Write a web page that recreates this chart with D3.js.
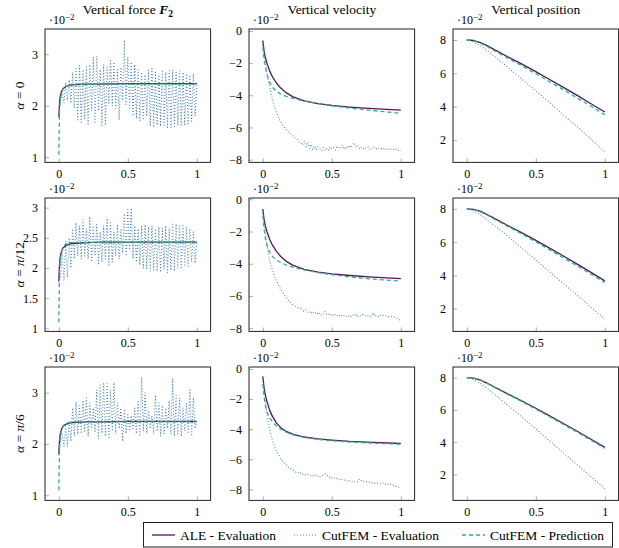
<!DOCTYPE html>
<html><head><meta charset="utf-8">
<script src="https://cdn.jsdelivr.net/npm/d3@7"></script>
<style>
body{margin:0;background:#fff;}
svg text, svg tspan{font-family:"Liberation Serif","Times New Roman",Times,serif !important;fill:#000;}
</style></head>
<body><svg id="c" width="619" height="548" font-family="Liberation Serif, serif"></svg>
<script>
// ---------------- DATA ----------------
const colTitles = ["Vertical force", "Vertical velocity", "Vertical position"];
const rowLabels = ["0", "π/12", "π/6"];
const seriesNames = ["ALE - Evaluation", "CutFEM - Evaluation", "CutFEM - Prediction"];
const xTicks = [0, 0.5, 1];
const xTickLabels = ["0", "0.5", "1"];
const forceTicks = [[1, 2, 3], [1, 1.5, 2, 2.5, 3], [1, 2, 3]];
const velTicks = [-8, -6, -4, -2, 0];
const posTicks = [2, 4, 6, 8];

// time grid of the CutFEM evaluation samples (81 uniform samples on [0,1])
const evalT = d3.range(81).map(i => i / 80);
// time samples for the smooth curves
const forceT = [0, 0.005, 0.01, 0.02, 0.03, 0.05, 0.08, 0.12, 0.2, 0.3, 0.5, 0.7, 1.0];
const velT = [0, 0.01, 0.02, 0.03, 0.05, 0.07, 0.1, 0.13, 0.17, 0.22, 0.3, 0.4, 0.5, 0.63, 0.8, 1.0];
const posT = [0, 0.05, 0.1, 0.15, 0.2, 0.3, 0.4, 0.5, 0.6, 0.7, 0.8, 0.9, 1.0];

// ---- Vertical force (·10^-2) ----
const forceAle0 = [1.78, 2.05, 2.18, 2.28, 2.33, 2.37, 2.40, 2.41, 2.42, 2.42, 2.43, 2.43, 2.43];
const forcePred0 = [1.05, 1.90, 2.10, 2.25, 2.32, 2.38, 2.40, 2.41, 2.42, 2.42, 2.42, 2.42, 2.42];
const forceEval0 = [1.80,2.10,2.30,2.05,2.45,2.10,2.50,2.05,2.65,1.95,2.75,1.70,2.78,1.65,2.70,1.75,2.75,1.62,2.80,1.90,
  2.95,1.65,2.97,1.90,2.70,1.62,2.80,1.62,2.75,2.05,2.90,2.00,2.85,1.95,2.70,1.72,2.75,2.10,3.27,2.00,
  2.95,1.95,2.85,1.80,2.80,1.75,2.70,1.70,2.65,1.75,2.60,1.80,2.70,1.60,2.75,1.58,2.65,1.62,2.60,1.60,
  2.70,1.62,2.65,1.58,2.68,1.58,2.70,1.60,2.65,1.62,2.68,1.60,2.65,1.62,2.62,1.65,2.60,1.70,2.62,1.80,2.40];
const forceAle1 = [1.78, 2.05, 2.18, 2.28, 2.33, 2.37, 2.40, 2.41, 2.42, 2.43, 2.43, 2.43, 2.43];
const forcePred1 = [1.10, 1.90, 2.12, 2.27, 2.34, 2.40, 2.42, 2.42, 2.42, 2.42, 2.42, 2.42, 2.42];
const forceEval1 = [1.75,1.85,2.25,1.80,2.45,1.85,2.50,2.00,2.65,2.15,2.75,2.20,2.70,2.15,2.80,2.20,2.65,2.15,2.85,2.10,
  2.70,2.20,2.72,2.05,2.60,2.10,2.70,2.15,2.82,2.05,2.75,2.10,2.60,2.20,2.72,2.15,2.65,2.25,2.90,2.20,
  2.97,2.30,2.99,2.15,2.70,2.10,2.65,2.05,2.70,2.00,2.72,1.98,2.68,1.95,2.70,1.97,2.65,1.95,2.68,1.93,
  2.66,1.98,2.70,1.92,2.65,1.96,2.75,1.95,2.73,2.00,2.72,1.98,2.70,2.05,2.68,2.02,2.65,2.10,2.60,2.08,2.42];
const forceAle2 = [1.80, 2.06, 2.19, 2.29, 2.34, 2.38, 2.41, 2.42, 2.43, 2.43, 2.44, 2.44, 2.44];
const forcePred2 = [1.10, 1.92, 2.12, 2.28, 2.35, 2.40, 2.42, 2.43, 2.43, 2.43, 2.43, 2.43, 2.43];
const forceEval2 = [1.80,2.05,2.20,1.95,2.35,1.95,2.45,2.05,2.70,2.15,2.82,2.18,2.75,2.20,2.85,2.25,2.90,2.15,2.80,2.30,
  2.70,2.25,3.05,2.10,3.15,2.20,3.20,2.15,3.18,2.10,3.05,2.25,3.20,2.20,2.80,2.30,2.70,2.05,2.65,2.20,
  2.60,2.25,2.55,2.30,2.70,2.20,2.85,2.15,3.30,2.25,3.00,2.20,2.65,2.30,2.55,2.20,2.95,2.25,2.80,2.15,
  2.75,2.20,2.70,2.30,2.85,2.20,3.27,2.15,2.95,2.20,2.90,2.15,2.70,2.25,2.80,2.20,3.05,2.15,2.90,2.30,2.45];

// ---- Vertical velocity (·10^-2) ----
const velAle0 = [-0.6,-1.3,-1.7,-2.0,-2.5,-2.85,-3.25,-3.55,-3.85,-4.1,-4.35,-4.52,-4.63,-4.73,-4.83,-4.92];
const velPred0 = [-1.0,-1.8,-2.3,-2.7,-3.2,-3.5,-3.75,-3.92,-4.07,-4.2,-4.35,-4.52,-4.65,-4.8,-4.95,-5.12];
const velEval0 = [-0.6,-1.5,-2.3,-3.0,-3.5,-4.0,-4.45,-4.8,-5.1,-5.35,-5.6,-5.75,-5.95,-6.05,-6.2,-6.3,-6.4,-6.5,-6.55,-6.7,
  -6.75,-6.9,-6.95,-7.1,-6.85,-7.2,-6.9,-7.3,-7.05,-7.35,-7.15,-7.4,-7.2,-7.3,-7.45,-7.25,-7.4,-7.3,-7.45,-7.2,
  -7.35,-7.25,-7.4,-7.15,-7.3,-7.25,-7.1,-7.35,-7.2,-7.3,-7.1,-7.25,-7.05,-6.95,-7.2,-7.1,-7.3,-7.2,-7.35,-7.25,
  -7.3,-7.2,-7.35,-7.25,-7.3,-7.2,-7.35,-7.3,-7.25,-7.35,-7.3,-7.4,-7.3,-7.35,-7.3,-7.4,-7.35,-7.3,-7.45,-7.4,-7.45];
const velAle1 = [-0.6,-1.3,-1.7,-2.0,-2.5,-2.85,-3.25,-3.55,-3.85,-4.1,-4.35,-4.52,-4.63,-4.73,-4.83,-4.92];
const velPred1 = [-1.0,-1.9,-2.5,-2.85,-3.3,-3.55,-3.78,-3.93,-4.08,-4.22,-4.38,-4.55,-4.68,-4.82,-4.95,-5.08];
const velEval1 = [-0.6,-1.6,-2.5,-3.3,-3.8,-4.2,-4.55,-4.85,-5.1,-5.3,-5.5,-5.7,-5.85,-6.0,-6.15,-6.3,-6.4,-6.5,-6.6,-6.65,
  -6.7,-6.8,-6.7,-6.9,-6.95,-6.85,-7.0,-6.95,-7.1,-6.95,-7.1,-7.0,-7.15,-7.05,-7.2,-7.1,-6.95,-7.15,-7.1,-7.2,
  -7.1,-7.25,-7.15,-7.2,-7.3,-7.15,-7.25,-7.2,-7.3,-7.2,-7.25,-7.3,-7.15,-7.25,-7.1,-7.3,-7.2,-7.25,-7.15,-7.25,
  -7.2,-7.25,-7.3,-7.2,-7.05,-7.25,-7.2,-7.3,-7.2,-7.25,-7.2,-7.25,-7.25,-7.3,-7.25,-7.3,-7.3,-7.35,-7.4,-7.45,-7.55];
const velAle2 = [-0.5,-1.3,-1.8,-2.15,-2.75,-3.15,-3.6,-3.9,-4.15,-4.35,-4.52,-4.65,-4.73,-4.81,-4.88,-4.95];
const velPred2 = [-1.0,-1.9,-2.5,-2.85,-3.25,-3.5,-3.8,-4.0,-4.2,-4.38,-4.55,-4.68,-4.77,-4.85,-4.93,-5.0];
const velEval2 = [-0.5,-1.6,-2.6,-3.4,-4.0,-4.5,-4.9,-5.2,-5.45,-5.65,-5.9,-6.05,-6.2,-6.3,-6.4,-6.55,-6.6,-6.7,-6.75,-6.85,
  -6.8,-6.95,-6.9,-7.0,-6.95,-7.05,-7.0,-7.1,-7.05,-7.1,-7.0,-7.15,-7.1,-7.15,-7.1,-7.05,-6.95,-7.0,-7.2,-7.15,
  -7.25,-7.2,-7.3,-7.25,-7.35,-7.3,-7.35,-7.4,-7.35,-7.45,-7.4,-7.5,-7.45,-7.5,-7.45,-7.5,-7.3,-7.4,-7.5,-7.45,
  -7.5,-7.55,-7.5,-7.55,-7.55,-7.6,-7.55,-7.6,-7.65,-7.6,-7.55,-7.65,-7.6,-7.7,-7.65,-7.7,-7.75,-7.8,-7.8,-7.85,-7.9];

// ---- Vertical position (·10^-2) ----
const posAle0 = [8.0,7.97,7.85,7.65,7.42,6.98,6.55,6.10,5.63,5.16,4.68,4.18,3.68];
const posPred0 = [8.0,7.95,7.80,7.60,7.36,6.90,6.45,5.98,5.50,5.02,4.52,4.03,3.52];
const posEval0 = [8.0,7.88,7.65,7.35,7.02,6.35,5.65,4.95,4.25,3.50,2.80,2.05,1.30];
const posAle1 = [8.0,7.97,7.85,7.65,7.43,6.99,6.56,6.11,5.64,5.17,4.68,4.18,3.67];
const posPred1 = [8.0,7.96,7.82,7.62,7.39,6.94,6.49,6.02,5.54,5.06,4.57,4.08,3.57];
const posEval1 = [8.0,7.88,7.64,7.34,7.00,6.33,5.63,4.93,4.22,3.50,2.80,2.08,1.37];
const posAle2 = [8.0,7.97,7.85,7.65,7.42,6.98,6.55,6.10,5.63,5.16,4.68,4.18,3.68];
const posPred2 = [8.0,7.96,7.83,7.63,7.40,6.95,6.51,6.05,5.58,5.10,4.62,4.12,3.62];
const posEval2 = [8.0,7.88,7.63,7.32,6.97,6.27,5.55,4.82,4.08,3.33,2.60,1.86,1.12];

// axis ranges
const xDomain = [-0.1, 1.1];
const forceDomains = [[0.9, 3.49], [0.95, 3.16], [0.9, 3.5]];
const velDomains = [[-8.17, 0.12], [-8.2, 0.08], [-8.73, 0.13]];
const posDomains = [[0.66, 8.66], [0.63, 8.66], [0.39, 8.66]];

// ---------------- LAYOUT / STYLE ----------------
const FONT = "Liberation Serif, Times New Roman, serif";
const colors = ["#521566", "#4079b0", "#2db37a"];
const colLeft = [45, 249, 453];
const panelW = 165.6;
const rowTop = [29, 198, 367];
const panelH = 133.4;

const panels = [];
const forceAle = [forceAle0, forceAle1, forceAle2], forceEval = [forceEval0, forceEval1, forceEval2], forcePred = [forcePred0, forcePred1, forcePred2];
const velAle = [velAle0, velAle1, velAle2], velEval = [velEval0, velEval1, velEval2], velPred = [velPred0, velPred1, velPred2];
const posAle = [posAle0, posAle1, posAle2], posEval = [posEval0, posEval1, posEval2], posPred = [posPred0, posPred1, posPred2];
for (let r = 0; r < 3; r++) {
  panels.push({r, c: 0, dom: forceDomains[r], ticks: forceTicks[r],
    series: [[forceT, forceAle[r]], [evalT, forceEval[r]], [forceT, forcePred[r]]]});
  panels.push({r, c: 1, dom: velDomains[r], ticks: velTicks,
    series: [[velT, velAle[r]], [evalT, velEval[r]], [velT, velPred[r]]]});
  panels.push({r, c: 2, dom: posDomains[r], ticks: posTicks,
    series: [[posT, posAle[r]], [posT, posEval[r]], [posT, posPred[r]]]});
}

const svg = d3.select("#c");
const fmt = v => (v < 0 ? "\u2212" + Math.abs(v) : String(v));
const styles = [
  {w: 1.3, dash: null},
  {w: 1.05, dash: "0.9 2.1"},
  {w: 1.3, dash: "4 3"}
];

panels.forEach(p => {
  const x0 = colLeft[p.c], y0 = rowTop[p.r];
  const x = d3.scaleLinear().domain(xDomain).range([x0, x0 + panelW]);
  const y = d3.scaleLinear().domain(p.dom).range([y0 + panelH, y0]);
  const g = svg.append("g");

  const cid = "clip" + p.r + p.c;
  g.append("clipPath").attr("id", cid).append("rect")
    .attr("x", x0).attr("y", y0).attr("width", panelW).attr("height", panelH);

  const xa = d3.axisBottom(x).tickValues(xTicks).tickFormat((d, i) => xTickLabels[i]).tickSizeInner(-4).tickSizeOuter(0).tickPadding(7);
  const xg = g.append("g").attr("transform", `translate(0,${y0 + panelH})`).call(xa);
  const ya = d3.axisLeft(y).tickValues(p.ticks).tickFormat(fmt).tickSizeInner(-4).tickSizeOuter(0).tickPadding(7);
  const yg = g.append("g").attr("transform", `translate(${x0},0)`).call(ya);
  [xg, yg].forEach(a => {
    a.attr("font-family", FONT);
    a.select(".domain").remove();
    a.selectAll(".tick line").attr("stroke", "#9a9a9a").attr("stroke-width", 0.8);
    a.selectAll(".tick text").attr("font-size", 12).style("font-family", FONT);
  });

  const line = d3.line().x(d => x(d[0])).y(d => y(d[1]));
  p.series.forEach((s, i) => {
    const pts = s[0].map((t, k) => [t, s[1][k]]);
    g.append("path").attr("clip-path", `url(#${cid})`)
      .attr("d", line(pts)).attr("fill", "none")
      .attr("stroke", colors[i]).attr("stroke-width", styles[i].w)
      .attr("stroke-dasharray", styles[i].dash)
      .attr("stroke-linejoin", "round");
  });

  g.append("rect").attr("x", x0).attr("y", y0).attr("width", panelW).attr("height", panelH)
    .attr("fill", "none").attr("stroke", "#222").attr("stroke-width", 1);

  const sl = g.append("text").attr("x", x0 + 4).attr("y", y0 - 5).attr("font-size", 12).style("font-family", FONT);
  sl.append("tspan").text("\u00b710");
  sl.append("tspan").attr("dy", -4).attr("font-size", 9).text("\u22122");
});

colTitles.forEach((t, c) => {
  const tx = svg.append("text").attr("x", colLeft[c] + panelW / 2).attr("y", 14)
    .attr("text-anchor", "middle").attr("font-size", 13.5).style("font-family", FONT).text(t);
  if (c === 0) {
    tx.append("tspan").text(" ");
    tx.append("tspan").attr("font-weight", "bold").attr("font-style", "italic").text("F");
    tx.append("tspan").attr("font-weight", "bold").attr("font-size", 9.5).attr("dy", 3).text("2");
  }
});

rowLabels.forEach((lab, r) => {
  const cy = rowTop[r] + panelH / 2;
  const t = svg.append("text").attr("transform", `translate(24,${cy}) rotate(-90)`)
    .attr("text-anchor", "middle").attr("font-size", 13.5).style("font-family", FONT);
  t.append("tspan").attr("font-style", "italic").text("α");
  t.append("tspan").text(" = ");
  if (lab === "0") t.append("tspan").text("0");
  else {
    t.append("tspan").attr("font-style", "italic").text("π");
    t.append("tspan").text(lab.slice(1));
  }
});

const lg = svg.append("g");
lg.append("rect").attr("x", 143.5).attr("y", 522.5).attr("width", 469).attr("height", 24.5)
  .attr("fill", "#fff").attr("stroke", "#222").attr("stroke-width", 1);
const legX = [152, 294, 462];
seriesNames.forEach((n, i) => {
  lg.append("line").attr("x1", legX[i]).attr("x2", legX[i] + 23).attr("y1", 535).attr("y2", 535)
    .attr("stroke", colors[i]).attr("stroke-width", styles[i].w).attr("stroke-dasharray", styles[i].dash);
  lg.append("text").attr("x", legX[i] + 28).attr("y", 539.5).attr("font-size", 13.5).style("font-family", FONT).text(n);
});
</script></body></html>
